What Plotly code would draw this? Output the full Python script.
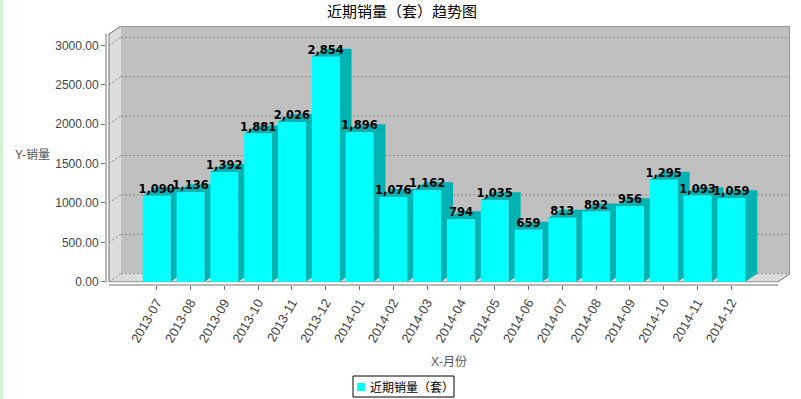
import plotly.graph_objects as go

# ---------------- data ----------------
months = ["2013-07", "2013-08", "2013-09", "2013-10", "2013-11", "2013-12",
          "2014-01", "2014-02", "2014-03", "2014-04", "2014-05", "2014-06",
          "2014-07", "2014-08", "2014-09", "2014-10", "2014-11", "2014-12"]
sales = [1090, 1136, 1392, 1881, 2026, 2854, 1896, 1076, 1162,
         794, 1035, 659, 813, 892, 956, 1295, 1093, 1059]
y_ticks = [0, 500, 1000, 1500, 2000, 2500, 3000]

TITLE = "近期销量（套）趋势图"
SERIES = "近期销量（套）"
Y_TITLE = "Y-销量"
X_TITLE = "X-月份"

# ---------------- geometry (pixels) ----------------
W, H = 801, 399
L, R, T, B = 106, 790, 26, 285          # plot area
PX_PER_CAT = 33.8
FIRST_CENTER_PX = 156.7
PX_PER_UNIT = 236.4 / 3000
ZERO_PX = 281.7
DXP, DYP = 12, 8                         # 3D offset
BAR_W = 27.8 / PX_PER_CAT

xmin = (L - FIRST_CENTER_PX) / PX_PER_CAT
xmax = (R - FIRST_CENTER_PX) / PX_PER_CAT
ymin = -(B - ZERO_PX) / PX_PER_UNIT
ymax = (ZERO_PX - T) / PX_PER_UNIT
DX = DXP / PX_PER_CAT
DY = DYP / PX_PER_UNIT


def xd(px):
    return xmin + (px - L) / PX_PER_CAT


def yd(py):
    return ymin + (B - py) / PX_PER_UNIT


def xp(px):
    return (px - L) / (R - L)


def yp(py):
    return (B - py) / (B - T)


def poly(pts):
    return "M " + " L ".join(f"{x},{y}" for x, y in pts) + " Z"


WALL = "#DDDDDD"
BACK = "#C0C0C0"
GRID = "#8A8A8A"
FRONT = "#00FFFF"
DARK = "#00B2B2"
TXT = "#444444"

shapes = []
fl, bl = xd(109), xd(109) + DX
fr, br = xd(778), xmax
ft, bt = yd(34), ymax

# back wall
shapes.append(dict(type="path", xref="x", yref="y", layer="below",
                   path=poly([(bl, DY), (bl, bt), (br, bt), (br, DY)]),
                   fillcolor=BACK, line=dict(width=0)))
# side wall
shapes.append(dict(type="path", xref="x", yref="y", layer="below",
                   path=poly([(fl, 0), (fl, ft), (bl, bt), (bl, DY)]),
                   fillcolor=WALL, line=dict(width=0)))
# floor
shapes.append(dict(type="path", xref="x", yref="y", layer="below",
                   path=poly([(fl, 0), (bl, DY), (br, DY), (fr, 0)]),
                   fillcolor=WALL, line=dict(width=0)))
# gridlines
for v in y_ticks:
    shapes.append(dict(type="line", xref="x", yref="y", layer="below",
                       x0=bl, x1=br, y0=v + DY, y1=v + DY,
                       line=dict(color=GRID, width=1, dash="2px,2px")))
    shapes.append(dict(type="line", xref="x", yref="y", layer="below",
                       x0=fl, x1=bl, y0=v, y1=v + DY,
                       line=dict(color=GRID, width=1, dash="2px,2px")))
# outline
shapes.append(dict(type="path", xref="x", yref="y", layer="below",
                   path="M {0},{1} L {0},{2} L {3},{4} L {5},{4} L {5},{6} L {7},{1}".format(
                       fl, 0, ft, bl, bt, br, DY, fr),
                   line=dict(color="#707070", width=1)))
shapes.append(dict(type="line", xref="x", yref="y", layer="below",
                   x0=fl, x1=fr, y0=0, y1=0, line=dict(color="#909090", width=1)))

# 3D side + top of each bar
for i, v in enumerate(sales):
    xl, xr = i - BAR_W / 2, i + BAR_W / 2
    shapes.append(dict(type="path", xref="x", yref="y", layer="below",
                       path=poly([(xl, v), (xl + DX, v + DY), (xr + DX, v + DY),
                                  (xr + DX, DY), (xr, 0), (xr, v)]),
                       fillcolor=DARK, line=dict(width=0)))

# axis lines
shapes.append(dict(type="line", xref="paper", yref="paper",
                   x0=0, x1=0, y0=yp(282.5), y1=yp(34),
                   line=dict(color="#707070", width=1)))
shapes.append(dict(type="line", xref="paper", yref="paper",
                   x0=xp(109), x1=xp(778), y0=0, y1=0,
                   line=dict(color="#707070", width=1)))
# left green strip
shapes.append(dict(type="rect", xref="paper", yref="paper",
                   x0=xp(0), x1=xp(3), y0=yp(H), y1=yp(0),
                   fillcolor="#CDF7D2", line=dict(width=0)))
# legend box + swatch
shapes.append(dict(type="rect", xref="paper", yref="paper",
                   x0=xp(353), x1=xp(454), y0=yp(397), y1=yp(376),
                   fillcolor="white", line=dict(color="black", width=1)))
shapes.append(dict(type="rect", xref="paper", yref="paper",
                   x0=xp(357), x1=xp(365), y0=yp(391), y1=yp(383),
                   fillcolor=FRONT, line=dict(width=0)))

fig = go.Figure()
fig.add_trace(go.Bar(
    x=list(range(len(months))), y=sales, width=BAR_W, name=SERIES,
    marker=dict(color=FRONT, line=dict(width=0)), showlegend=False,
))
fig.add_trace(go.Scatter(
    x=list(range(len(months))), y=sales, mode="text",
    texttemplate="%{y:,}", textposition="top center", marker=dict(size=1),
    textfont=dict(family="DejaVu Sans", size=11.5, color="black", weight="bold"),
    cliponaxis=False, showlegend=False, hoverinfo="skip",
))

fig.update_layout(
    width=W, height=H,
    margin=dict(l=L, r=W - R, t=T, b=H - B, pad=0),
    paper_bgcolor="white", plot_bgcolor="white",
    title=dict(text=TITLE, x=402 / W, xanchor="center", xref="container",
               y=1 - 11.5 / H, yanchor="middle",
               font=dict(family="Noto Sans CJK SC", size=15, color="black")),
    xaxis=dict(range=[xmin, xmax], tickvals=list(range(len(months))), ticktext=months,
               tickangle=-60, ticks="outside", ticklen=4, tickcolor="#707070",
               showgrid=False, zeroline=False, showline=False, automargin=False,
               tickfont=dict(family="Liberation Sans", size=13, color=TXT)),
    yaxis=dict(range=[ymin, ymax], tickvals=y_ticks, tickformat=".2f",
               ticks="outside", ticklen=4, tickcolor="#707070",
               showgrid=False, zeroline=False, showline=False, automargin=False,
               tickfont=dict(family="Liberation Sans", size=12, color=TXT)),
    shapes=shapes,
    showlegend=False,
    annotations=[
        dict(text=Y_TITLE, xref="paper", yref="paper", x=xp(12.5), y=yp(155),
             xanchor="left", yanchor="middle", showarrow=False,
             font=dict(family="Liberation Sans, Noto Sans CJK SC", size=12, color="#555555")),
        dict(text=X_TITLE, xref="paper", yref="paper", x=xp(449), y=yp(361.5),
             xanchor="center", yanchor="middle", showarrow=False,
             font=dict(family="Liberation Sans, Noto Sans CJK SC", size=12, color="#555555")),
        dict(text=SERIES, xref="paper", yref="paper", x=xp(368), y=yp(386.5),
             xanchor="left", yanchor="middle", showarrow=False,
             font=dict(family="Noto Sans CJK SC", size=12, color="black")),
    ],
)

fig.write_html("out.html", config={"displayModeBar": False},
               post_script="document.body.style.margin='0px';")
